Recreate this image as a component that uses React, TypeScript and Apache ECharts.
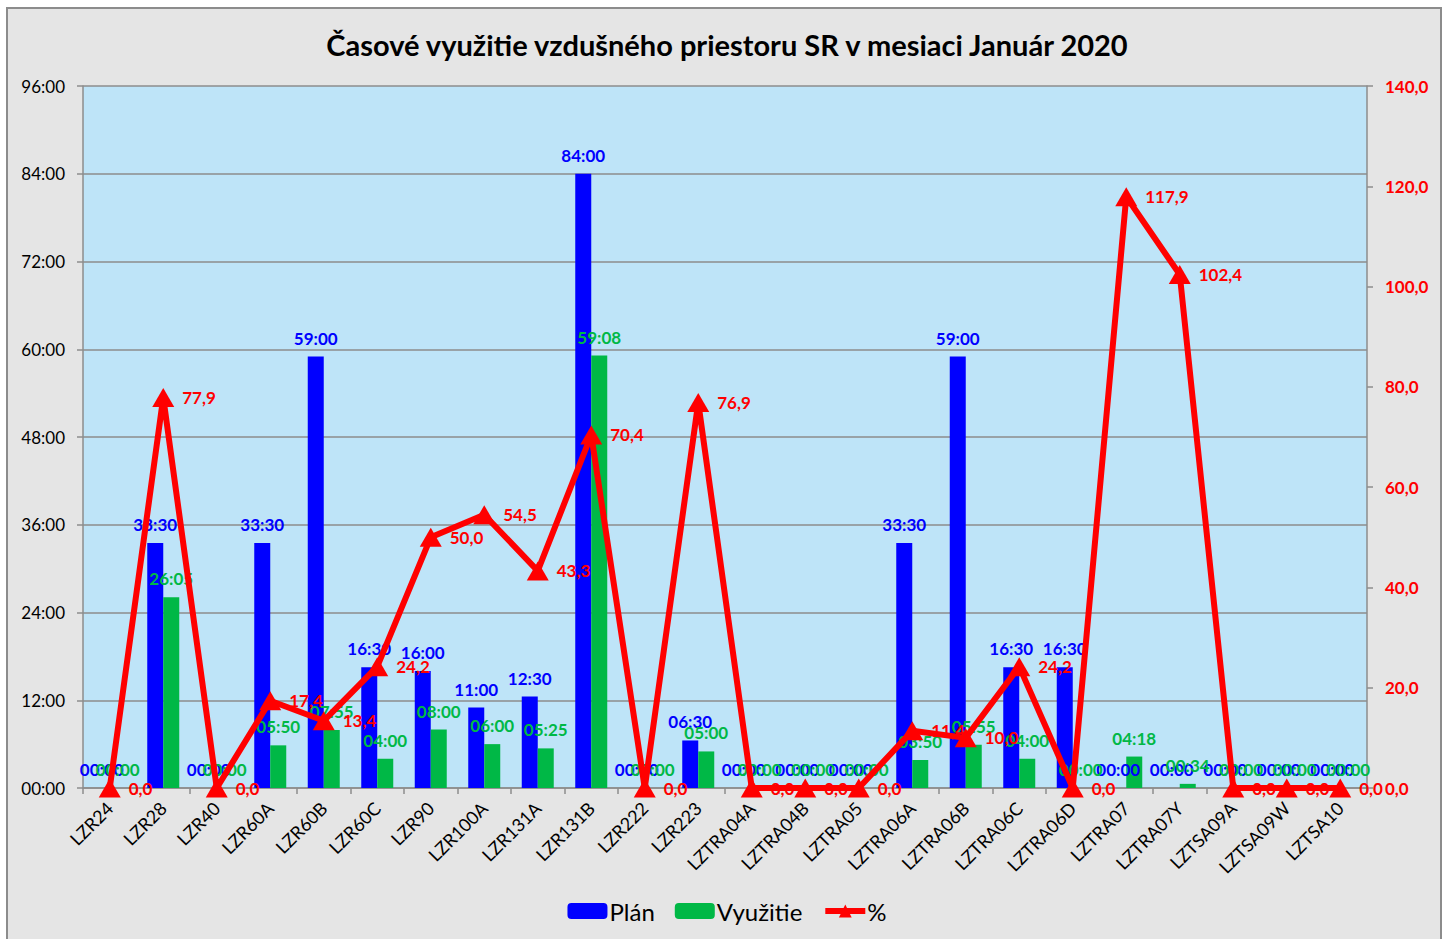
import React, { useEffect, useRef } from "react";
import * as echarts from "echarts";

const categories = [
  "LZR24", "LZR28", "LZR40", "LZR60A", "LZR60B", "LZR60C", "LZR90", "LZR100A",
  "LZR131A", "LZR131B", "LZR222", "LZR223", "LZTRA04A", "LZTRA04B", "LZTRA05",
  "LZTRA06A", "LZTRA06B", "LZTRA06C", "LZTRA06D", "LZTRA07", "LZTRA07Y",
  "LZTSA09A", "LZTSA09W", "LZTSA10",
];

const planTimes = [
  "00:00", "33:30", "00:00", "33:30", "59:00", "16:30", "16:00", "11:00",
  "12:30", "84:00", "00:00", "06:30", "00:00", "00:00", "00:00",
  "33:30", "59:00", "16:30", "16:30", "00:00", "00:00",
  "00:00", "00:00", "00:00",
];

const usedTimes = [
  "00:00", "26:05", "00:00", "05:50", "07:55", "04:00", "08:00", "06:00",
  "05:25", "59:08", "00:00", "05:00", "00:00", "00:00", "00:00",
  "03:50", "05:55", "04:00", "00:00", "04:18", "00:34",
  "00:00", "00:00", "00:00",
];

const percentValues = [
  0, 77.9, 0, 17.4, 13.4, 24.2, 50.0, 54.5,
  43.3, 70.4, 0, 76.9, 0, 0, 0,
  11.4, 10.0, 24.2, 0, 117.9, 102.4,
  0, 0, 0,
];

const leftTicks = { min: 0, max: 96, interval: 12 };
const rightTicks = { min: 0, max: 140, interval: 20 };

const toHours = (t: string) => {
  const [h, m] = t.split(":").map(Number);
  return h + m / 60;
};

const BLUE = "#0000ff";
const GREEN = "#00b846";
const RED = "#ff0000";
const FONT = "Lato, 'Open Sans', sans-serif";

export default function App() {
  const ref = useRef<HTMLDivElement>(null);

  useEffect(() => {
    if (!ref.current) return;
    const chart = echarts.init(ref.current, undefined, { renderer: "svg" });
    chart.setOption({
      animation: false,
      backgroundColor: "transparent",
      textStyle: { fontFamily: FONT },
      title: {
        text: "Časové využitie vzdušného priestoru SR v mesiaci Január 2020",
        left: "center",
        top: 25,
        textStyle: { fontFamily: FONT, fontWeight: "bold", fontSize: 29, color: "#000" },
      },
      legend: {
        bottom: 11,
        left: "center",
        itemWidth: 40,
        itemHeight: 16,
        itemGap: 20,
        textStyle: { fontFamily: FONT, fontSize: 24, color: "#000", padding: [0, 0, 0, -3] },
        data: [
          { name: "Plán" },
          { name: "Využitie" },
          { name: "%", lineStyle: { width: 6, color: RED }, itemStyle: { color: RED } },
        ],
      },
      grid: {
        left: 83,
        top: 86,
        right: 87,
        bottom: 151,
        show: true,
        backgroundColor: "#bee4f8",
        borderWidth: 0,
      },
      xAxis: {
        type: "category",
        data: categories,
        axisLine: { show: true, lineStyle: { color: "#8c8c8c", width: 1.5 } },
        axisTick: { show: true, alignWithLabel: false, length: 6, lineStyle: { color: "#8c8c8c", width: 1.5 } },
        axisLabel: {
          rotate: 45,
          interval: 0,
          margin: 17,
          fontFamily: FONT,
          fontSize: 18,
          color: "#000",
        },
      },
      yAxis: [
        {
          type: "value",
          min: leftTicks.min,
          max: leftTicks.max,
          interval: leftTicks.interval,
          axisLine: { show: true, lineStyle: { color: "#8c8c8c", width: 1.5 } },
          axisTick: { show: true, length: 6, lineStyle: { color: "#8c8c8c", width: 1.5 } },
          splitLine: { show: true, lineStyle: { color: "#8c8c8c", width: 1.5 } },
          axisLabel: {
            margin: 18,
            fontFamily: FONT,
            fontSize: 17,
            color: "#000",
            formatter: (v: number) => `${String(v).padStart(2, "0")}:00`,
          },
        },
        {
          type: "value",
          min: rightTicks.min,
          max: rightTicks.max,
          interval: rightTicks.interval,
          position: "right",
          axisLine: { show: true, lineStyle: { color: "#8c8c8c", width: 1.5 } },
          axisTick: { show: true, length: 6, lineStyle: { color: "#8c8c8c", width: 1.5 } },
          splitLine: { show: false },
          axisLabel: {
            margin: 18,
            fontFamily: FONT,
            fontSize: 17,
            fontWeight: "bold",
            color: RED,
            formatter: (v: number) => v.toFixed(1).replace(".", ","),
          },
        },
      ],
      series: [
        {
          name: "Plán",
          type: "bar",
          yAxisIndex: 0,
          barWidth: 16,
          barGap: "0%",
          itemStyle: { color: BLUE },
          data: planTimes.map(toHours),
          label: {
            show: true,
            position: "top",
            distance: 10,
            fontFamily: FONT,
            fontSize: 17,
            fontWeight: "bold",
            color: BLUE,
            formatter: (p: any) => planTimes[p.dataIndex],
          },
          z: 2,
        },
        {
          name: "Využitie",
          type: "bar",
          yAxisIndex: 0,
          barWidth: 16,
          barGap: "0%",
          itemStyle: { color: GREEN },
          data: usedTimes.map(toHours),
          label: {
            show: true,
            position: "top",
            distance: 10,
            fontFamily: FONT,
            fontSize: 17,
            fontWeight: "bold",
            color: GREEN,
            formatter: (p: any) => usedTimes[p.dataIndex],
          },
          z: 2,
        },
        {
          name: "%",
          type: "line",
          yAxisIndex: 1,
          data: percentValues,
          symbol: "triangle",
          symbolSize: [22, 19],
          showAllSymbol: true,
          lineStyle: { color: RED, width: 6 },
          itemStyle: { color: RED },
          label: {
            show: true,
            position: "right",
            distance: 8,
            fontFamily: FONT,
            fontSize: 17,
            fontWeight: "bold",
            color: RED,
            formatter: (p: any) => Number(p.value).toFixed(1).replace(".", ","),
          },
          z: 3,
        },
      ],
    });
    return () => chart.dispose();
  }, []);

  return (
    <>
      <div
        style={{
          position: "absolute",
          left: 6,
          top: 7,
          width: 1436,
          height: 932,
          boxSizing: "border-box",
          background: "#e5e5e5",
          borderTop: "2px solid #8c8c8c",
          borderLeft: "2px solid #8c8c8c",
          borderRight: "2px solid #8c8c8c",
        }}
      />
      <div
        ref={ref}
        style={{ position: "absolute", left: 0, top: 0, width: 1454, height: 939 }}
      />
    </>
  );
}
